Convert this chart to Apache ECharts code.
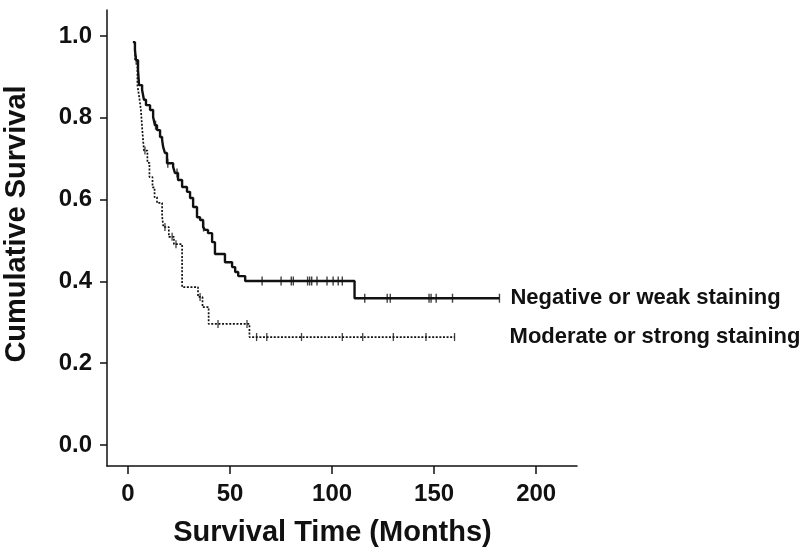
<!DOCTYPE html>
<html lang="en">
<head>
    <meta charset="UTF-8">
    <title>Survival</title>
    <script type="text/javascript" src="https://cdn.jsdelivr.net/npm/echarts@6/dist/echarts.min.js"></script>
    <style>
        html, body {margin: 0; padding: 0; background: #fff;}
    </style>
</head>
<body>
<div id="chart" style="width: 812px;height: 559px"></div>
<script type="text/javascript">
    // step times (months) and survival after each drop
    var solidTimes = [2.4, 3.4, 3.9, 4.9, 5.4, 6.9, 7.8, 8.8, 10.8, 12.3, 13.2, 14.2, 15.7, 16.7, 17.2, 18.1, 19.1, 22.1, 23.0, 24.5,
        26.5, 28.9, 30.4, 31.9, 33.8, 35.3, 36.8, 37.7, 39.2, 41.2, 42.6, 47.5, 51.0, 52.5, 54.0, 57.4, 111.0];
    var solidSurv = [0.985, 0.966, 0.941, 0.917, 0.880, 0.868, 0.844, 0.831, 0.819, 0.802, 0.782, 0.770, 0.753, 0.746, 0.729, 0.714, 0.689, 0.680, 0.665, 0.648,
        0.631, 0.619, 0.604, 0.582, 0.557, 0.550, 0.533, 0.526, 0.518, 0.496, 0.467, 0.447, 0.435, 0.423, 0.413, 0.401, 0.359];
    var solidEnd = 182;
    var solidCensor = [4.0, 13.5, 19.5, 24, 37, 65.7, 75, 80, 81, 88, 89, 90, 92.6, 97.5, 100.5, 103, 105, 116, 127, 128.5, 147.5, 148.5, 151, 159, 182];

    var dotTimes = [2.4, 3.5, 4.6, 5.5, 6.3, 7.0, 7.8, 9.5, 10.5, 12.0, 13.0, 14.2, 16.7, 17.3, 20.0, 22.5, 26.5, 34.3, 36.5, 39.5, 59.5];
    var dotSurv = [0.985, 0.94, 0.88, 0.85, 0.82, 0.77, 0.72, 0.69, 0.655, 0.63, 0.606, 0.592, 0.56, 0.533, 0.509, 0.491, 0.386, 0.362, 0.337, 0.296, 0.264];
    var dotEnd = 160;
    var dotCensor = [8.3, 18.1, 21.6, 23.5, 35.3, 44.1, 58.3, 63, 68, 85, 105, 115, 130, 146, 160];

    var groups = ['Negative or weak staining', 'Moderate or strong staining'];
    var yTicks = [0, 0.2, 0.4, 0.6, 0.8, 1.0];
    var xTicks = [0, 50, 100, 150, 200];

    function stepData(times, surv, end) {
        var d = [];
        for (var i = 0; i < times.length; i++) d.push([times[i], surv[i]]);
        d.push([end, surv[surv.length - 1]]);
        return d;
    }
    function survAt(times, surv, t) {
        var s = surv[0];
        for (var i = 0; i < times.length; i++) {
            if (times[i] <= t) s = surv[i];
        }
        return s;
    }
    function censorData(times, surv, cens) {
        return cens.map(function (t) { return [t, survAt(times, surv, t)]; });
    }

    var font = 'Liberation Sans, Arial, sans-serif';
    var ink = '#111';

    var myChart = echarts.init(document.getElementById('chart'));
    var option = {
        animation: false,
        backgroundColor: '#fff',
        grid: {left: 107, right: 235, top: 10, bottom: 93, outerBoundsMode: 'none'},
        xAxis: {
            type: 'value',
            min: -10.3,
            max: 220,
            name: 'Survival Time (Months)',
            nameLocation: 'middle',
            nameGap: 52,
            nameTextStyle: {fontFamily: font, fontWeight: 'bold', fontSize: 29, color: ink, padding: [0, 19, 0, 0]},
            axisLine: {onZero: false, lineStyle: {color: ink, width: 1.5}},
            axisTick: {customValues: xTicks, length: 8, lineStyle: {color: ink, width: 1.5}},
            axisLabel: {customValues: xTicks, margin: 16, fontFamily: font, fontWeight: 'bold', fontSize: 24, color: ink},
            splitLine: {show: false}
        },
        yAxis: {
            type: 'value',
            min: -0.0513,
            max: 1.0636,
            name: 'Cumulative Survival',
            nameLocation: 'middle',
            nameGap: 76,
            nameTextStyle: {fontFamily: font, fontWeight: 'bold', fontSize: 29, color: ink, padding: [0, 0, 0, 28]},
            axisLine: {onZero: false, lineStyle: {color: ink, width: 1.5}},
            axisTick: {customValues: yTicks, length: 7, lineStyle: {color: ink, width: 1.5}},
            axisLabel: {
                customValues: yTicks, margin: 15, fontFamily: font, fontWeight: 'bold', fontSize: 24, color: ink,
                formatter: function (v) { return v.toFixed(1); }
            },
            splitLine: {show: false}
        },
        series: [
            {
                name: groups[0],
                type: 'line',
                step: 'end',
                showSymbol: false,
                data: stepData(solidTimes, solidSurv, solidEnd),
                lineStyle: {color: ink, width: 2.4},
                endLabel: {show: true, formatter: '{a}', distance: 11, fontFamily: font, fontWeight: 'bold', fontSize: 22, color: ink}
            },
            {
                name: groups[1],
                type: 'line',
                step: 'end',
                showSymbol: false,
                data: stepData(dotTimes, dotSurv, dotEnd),
                lineStyle: {color: ink, width: 1.7, type: [2, 1.6]},
                endLabel: {show: true, formatter: '{a}', distance: 55, fontFamily: font, fontWeight: 'bold', fontSize: 22, color: ink}
            },
            {
                type: 'scatter',
                symbol: 'rect',
                symbolSize: [1.4, 9],
                itemStyle: {color: ink},
                data: censorData(solidTimes, solidSurv, solidCensor)
            },
            {
                type: 'scatter',
                symbol: 'rect',
                symbolSize: [1.3, 8],
                itemStyle: {color: ink},
                data: censorData(dotTimes, dotSurv, dotCensor)
            }
        ]
    };
    myChart.setOption(option);
</script>
</body>
</html>
